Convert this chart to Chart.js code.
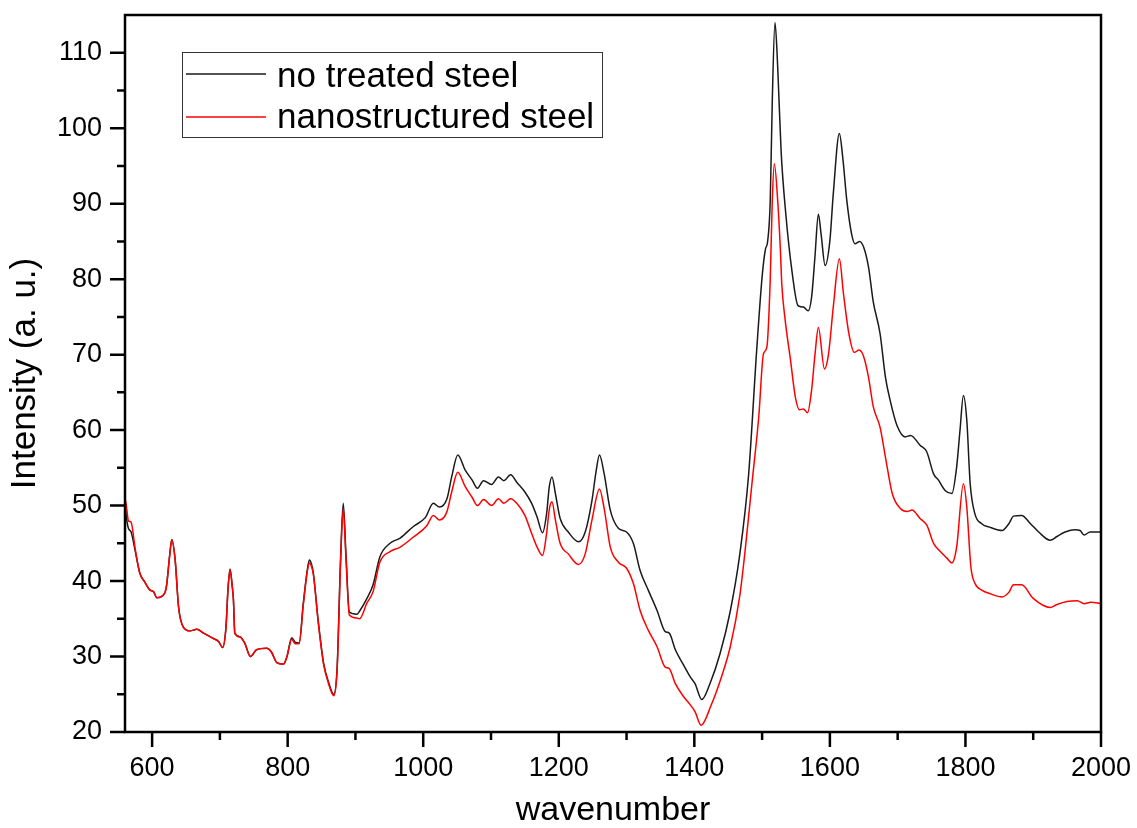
<!DOCTYPE html>
<html>
<head>
<meta charset="utf-8">
<script src="https://cdn.jsdelivr.net/npm/chart.js@4/dist/chart.umd.min.js"></script>
<style>
html,body{margin:0;padding:0;background:#fff;}
#wrap{width:1137px;height:828px;position:relative;}
</style>
</head>
<body>
<div id="wrap"><canvas id="c" width="1137" height="828"></canvas></div>
<script>
// ---- data ----
const seriesNames = ["no treated steel", "nanostructured steel"];
const blackX = [560,562,565,569,575,582,589,597,602,607,616,621,626,629,634,639,646,656,666,676,690,698,704,709,712,715,718,720,722,730,737,745,754,769,776,784,794,799,806,811,817,823,829,832,835,838,845,853,860,868,873,878,882,886,891,902,906,917,926,936,951,966,985,1003,1015,1024,1035,1042,1051,1062,1072,1080,1089,1101,1111,1119,1129,1138,1150,1160,1168,1176,1182,1186,1190,1195,1202,1214,1229,1239,1249,1255,1260,1267,1276,1288,1300,1310,1320,1332,1345,1357,1363,1372,1384,1394,1401,1411,1423,1438,1453,1467,1480,1492,1500,1505,1508,1512,1515,1519,1523,1528,1535,1544,1553,1561,1568,1573,1578,1583,1587,1593,1600,1605,1614,1619,1625,1632,1637,1644,1650,1657,1664,1674,1682,1689,1699,1711,1719,1733,1743,1753,1760,1770,1780,1787,1792,1797,1802,1807,1814,1824,1837,1854,1864,1871,1883,1896,1908,1925,1935,1947,1962,1969,1975,1984,2000];
const blackY = [50.5,48.5,47.0,46.5,44.0,41.0,39.9,38.8,38.6,37.8,38.1,39.2,43.5,45.5,42.8,36.6,33.9,33.4,33.6,33.1,32.4,32.0,31.2,33.9,39.0,41.6,39.5,37.5,33.1,32.6,31.7,30.0,30.9,31.1,30.6,29.2,29.0,30.0,32.5,31.9,31.8,37.0,41.5,42.8,42.3,41.0,34.8,29.1,26.7,25.0,28.6,42.8,50.3,43.6,35.9,35.6,36.0,37.7,39.5,43.2,45.0,45.7,47.2,48.4,50.3,49.8,50.9,53.8,56.7,54.7,53.4,52.3,53.3,52.8,53.8,53.3,54.1,53.1,51.8,50.3,48.5,46.4,48.9,52.5,53.8,51.6,48.3,46.5,45.2,46.5,50.7,54.5,56.7,54.2,49.4,47.0,46.5,45.0,41.4,38.8,36.1,33.3,33.1,30.9,28.9,27.3,26.4,24.3,26.4,30.4,36.0,43.5,54.0,70.6,80.3,84.0,84.9,90.4,103.6,114.0,108.1,97.0,88.6,81.1,76.5,76.3,75.8,77.6,83.0,88.6,86.0,81.8,85.1,91.3,99.3,96.1,90.4,86.0,84.7,85.0,84.2,81.6,77.0,72.8,67.0,63.9,60.6,59.1,59.3,58.0,57.1,54.2,53.4,52.0,51.6,55.1,60.0,64.6,61.3,52.9,48.9,47.6,47.1,46.7,47.6,48.6,48.7,47.6,46.5,45.4,45.9,46.5,46.8,46.7,46.1,46.5,46.5];
const redX = [560,562,565,569,575,582,589,597,602,607,616,621,626,629,634,639,646,656,666,676,690,698,704,709,712,715,718,720,722,730,737,745,754,769,776,784,794,799,806,811,817,823,829,832,835,838,845,853,860,868,873,878,882,886,891,902,906,917,926,936,951,966,985,1005,1015,1024,1035,1042,1051,1062,1072,1080,1089,1101,1111,1119,1129,1138,1150,1160,1168,1176,1182,1186,1190,1195,1202,1214,1229,1239,1249,1260,1267,1276,1288,1300,1310,1320,1332,1345,1357,1363,1372,1384,1394,1401,1410,1425,1440,1453,1467,1475,1485,1495,1502,1507,1512,1515,1518,1523,1527,1529,1534,1542,1549,1555,1561,1567,1573,1578,1583,1592,1598,1605,1614,1620,1628,1636,1643,1650,1657,1664,1674,1682,1692,1704,1714,1721,1733,1743,1753,1763,1773,1780,1787,1797,1802,1808,1814,1824,1837,1854,1864,1871,1883,1900,1925,1935,1950,1965,1975,1985,2000];
const redY = [51.0,50.0,48.0,47.8,44.3,41.0,39.9,38.8,38.6,37.8,38.1,39.2,43.4,45.4,42.8,36.6,33.9,33.4,33.6,33.1,32.4,32.0,31.2,33.9,39.0,41.5,39.5,37.5,33.1,32.6,31.7,30.0,30.9,31.1,30.6,29.2,29.0,30.0,32.3,31.7,31.7,36.8,41.3,42.4,42.0,40.8,34.6,29.0,26.5,24.8,28.3,42.3,49.6,43.0,35.5,35.1,35.0,37.1,38.6,42.5,43.9,44.5,45.8,47.3,48.7,48.1,49.2,51.8,54.4,52.5,51.1,50.0,50.8,50.0,50.9,50.3,50.9,50.3,48.7,46.3,44.5,43.4,46.3,49.5,50.5,48.1,45.0,43.6,42.2,43.6,48.1,52.2,49.6,44.5,42.5,41.7,39.7,36.1,33.5,31.3,28.6,28.4,26.4,24.7,23.6,22.7,20.9,23.6,27.3,31.3,38.0,44.1,52.9,61.7,70.1,71.0,80.0,90.4,95.3,90.4,83.8,79.4,74.6,69.2,64.4,62.7,62.8,62.3,65.3,70.0,73.6,68.1,70.1,76.3,82.7,78.1,72.8,70.3,70.6,69.7,67.0,63.1,60.4,56.4,51.6,49.6,49.2,49.4,48.3,47.4,45.0,43.9,43.0,42.4,44.5,52.9,49.8,41.9,39.7,38.8,38.3,37.9,38.5,39.5,39.5,37.7,36.5,36.9,37.3,37.4,37.0,37.2,37.0];
const xTickLabels = [600,800,1000,1200,1400,1600,1800,2000];
const xMinorTicks = [700,900,1100,1300,1500,1700,1900];
const yTickLabels = [20,30,40,50,60,70,80,90,100,110];
const yMinorTicks = [25,35,45,55,65,75,85,95,105];
const xTitle = "wavenumber";
const yTitle = "Intensity (a. u.)";

const FONT = "'Liberation Sans', Arial, Helvetica, sans-serif";
const seriesColors = ["#1a1a1a", "#ff0000"];

function toPts(xs, ys){ return xs.map((x,i)=>({x:x, y:ys[i]})); }

const framePlugin = {
  id: 'frameTicks',
  afterDraw(chart){
    const ctx = chart.ctx, a = chart.chartArea;
    const xs = chart.scales.x, ys = chart.scales.y;
    ctx.save();
    ctx.strokeStyle = '#000';
    ctx.lineWidth = 2.5;
    ctx.strokeRect(a.left, a.top, a.right - a.left, a.bottom - a.top);
    ctx.beginPath();
    xTickLabels.forEach(v=>{ const p = xs.getPixelForValue(v); ctx.moveTo(p, a.bottom); ctx.lineTo(p, a.bottom + 15); });
    xMinorTicks.forEach(v=>{ const p = xs.getPixelForValue(v); ctx.moveTo(p, a.bottom); ctx.lineTo(p, a.bottom + 8); });
    yTickLabels.forEach(v=>{ const p = ys.getPixelForValue(v); ctx.moveTo(a.left, p); ctx.lineTo(a.left - 15, p); });
    yMinorTicks.forEach(v=>{ const p = ys.getPixelForValue(v); ctx.moveTo(a.left, p); ctx.lineTo(a.left - 8, p); });
    ctx.stroke();

    // legend
    const bx = 182, by = 52, bw = 420, bh = 85;
    ctx.lineWidth = 1;
    ctx.strokeStyle = '#333';
    ctx.strokeRect(bx + 0.5, by + 0.5, bw, bh);
    const rows = [{y:74, name: seriesNames[0], c: seriesColors[0]}, {y:117, name: seriesNames[1], c: seriesColors[1]}];
    ctx.font = "35px " + FONT;
    ctx.textBaseline = 'alphabetic';
    ctx.textAlign = 'left';
    rows.forEach((r,i)=>{
      ctx.strokeStyle = r.c; ctx.lineWidth = 1.3;
      ctx.beginPath(); ctx.moveTo(186, r.y); ctx.lineTo(266, r.y); ctx.stroke();
      ctx.fillStyle = '#000';
      ctx.fillText(r.name, 277, i === 0 ? 87 : 128);
    });
    ctx.restore();
  }
};

const bgPlugin = {
  id: 'bg',
  beforeDraw(chart){ const c = chart.ctx; c.save(); c.fillStyle = '#fff'; c.fillRect(0,0,chart.width,chart.height); c.restore(); }
};

new Chart(document.getElementById('c'), {
  type: 'line',
  data: {
    datasets: [
      { label: seriesNames[1], data: toPts(redX, redY), borderColor: seriesColors[1], borderWidth: 1.5, pointRadius: 0, fill: false, cubicInterpolationMode: 'monotone', order: 0 },
      { label: seriesNames[0], data: toPts(blackX, blackY), borderColor: seriesColors[0], borderWidth: 1.5, pointRadius: 0, fill: false, cubicInterpolationMode: 'monotone', order: 1 }
    ]
  },
  options: {
    responsive: false,
    animation: false,
    devicePixelRatio: 1,
    layout: { padding: { top: 15, right: 36, left: 0, bottom: 0 } },
    plugins: { legend: { display: false }, tooltip: { enabled: false } },
    scales: {
      x: {
        type: 'linear', min: 560, max: 2000,
        grid: { display: false, drawTicks: false },
        border: { display: false },
        afterBuildTicks(s){ s.ticks = xTickLabels.map(v=>({value:v})); },
        afterFit(s){ s.height = 96; s.paddingLeft = 0; s.paddingRight = 0; },
        ticks: { color: '#000', font: { family: FONT, size: 27 }, padding: 20, maxRotation: 0, autoSkip: false, callback: v => String(v) },
        title: { display: true, text: xTitle, color: '#000', font: { family: FONT, size: 34, lineHeight: 1 }, padding: { top: 0, bottom: 0 } }
      },
      y: {
        type: 'linear', min: 20, max: 115,
        grid: { display: false, drawTicks: false },
        border: { display: false },
        afterBuildTicks(s){ s.ticks = yTickLabels.map(v=>({value:v})); },
        afterFit(s){ s.width = 125; s.paddingTop = 0; s.paddingBottom = 0; },
        ticks: { color: '#000', font: { family: FONT, size: 27 }, padding: 23, autoSkip: false, callback: v => String(v) },
        title: { display: true, text: yTitle, color: '#000', font: { family: FONT, size: 35, lineHeight: 1 }, padding: { top: 8, bottom: 0 } }
      }
    }
  },
  plugins: [bgPlugin, framePlugin]
});
</script>
</body>
</html>
